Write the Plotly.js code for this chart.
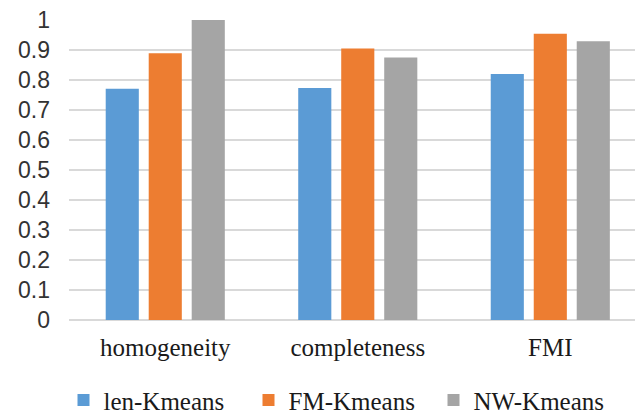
<!DOCTYPE html>
<html>
<head>
<meta charset="utf-8">
<script src="https://cdn.plot.ly/plotly-3.0.1.min.js"></script>
<style>
  html, body { margin: 0; padding: 0; background: #ffffff; }
  #chart { width: 635px; height: 417px; }
</style>
</head>
<body>
<div id="chart"></div>
<script>
// Clustering quality metrics for three K-means variants
const metrics = ['homogeneity', 'completeness', 'FMI'];
const lenKmeans = [0.771, 0.773, 0.820];
const fmKmeans  = [0.889, 0.905, 0.954];
const nwKmeans  = [1.000, 0.875, 0.929];
const yTicks = [0, 0.1, 0.2, 0.3, 0.4, 0.5, 0.6, 0.7, 0.8, 0.9, 1];
const yTickText = ['0', '0.1', '0.2', '0.3', '0.4', '0.5', '0.6', '0.7', '0.8', '0.9', '1'];

const serif = '"Liberation Serif", "Times New Roman", serif';
const sans = '"Liberation Sans", Arial, sans-serif';

function series(name, values, color) {
  return {
    type: 'bar',
    name: name,
    x: metrics,
    y: values,
    marker: { color: color },
    hoverinfo: 'skip'
  };
}

const data = [
  series('len-Kmeans', lenKmeans, '#5b9bd5'),
  series('FM-Kmeans', fmKmeans, '#ed7d31'),
  series('NW-Kmeans', nwKmeans, '#a5a5a5')
];

const layout = {
  width: 635,
  height: 417,
  margin: { l: 69, r: 0, t: 20, b: 97, pad: 0 },
  paper_bgcolor: '#ffffff',
  plot_bgcolor: '#ffffff',
  barmode: 'group',
  bargap: 0.33,
  bargroupgap: 0.23,
  showlegend: true,
  legend: {
    orientation: 'h',
    xref: 'container',
    yref: 'container',
    x: 0.1,
    xanchor: 'left',
    y: 0.04,
    yanchor: 'middle',
    font: { family: serif, size: 25, color: '#1a1a1a' },
    itemwidth: 30,
    entrywidth: 140,
    tracegroupgap: 0
  },
  xaxis: {
    type: 'category',
    range: [-0.5, 2.44],
    showgrid: false,
    showline: false,
    zeroline: false,
    ticks: '',
    tickfont: { family: serif, size: 25, color: '#1a1a1a' },
    ticklabelstandoff: 10,
    fixedrange: true
  },
  yaxis: {
    range: [0, 1],
    tickvals: yTicks,
    ticktext: yTickText,
    showgrid: true,
    gridcolor: '#d9d9d9',
    gridwidth: 1.3,
    zeroline: true,
    zerolinecolor: '#d9d9d9',
    zerolinewidth: 1.3,
    showline: false,
    ticks: '',
    tickfont: { family: sans, size: 23, color: '#333333' },
    ticklabelstandoff: 18,
    fixedrange: true
  }
};

Plotly.newPlot('chart', data, layout, { displayModeBar: false, staticPlot: true });
</script>
</body>
</html>
